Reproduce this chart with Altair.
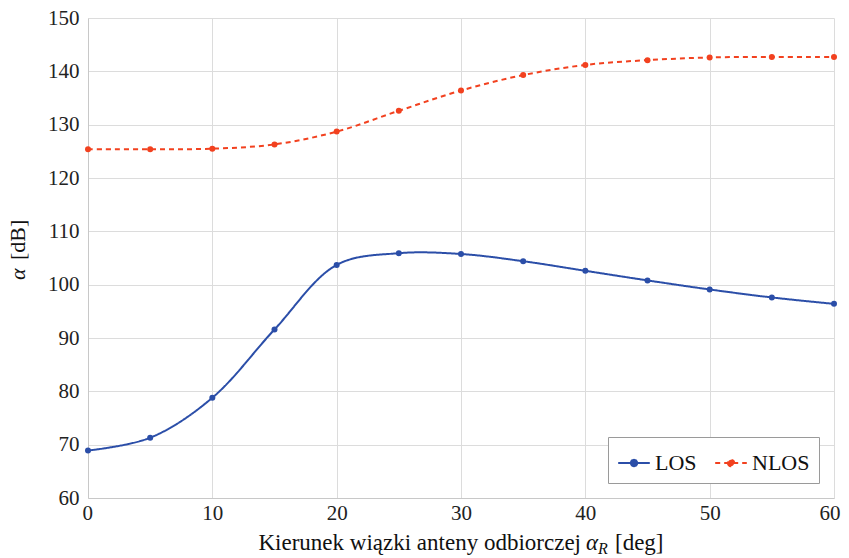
import altair as alt
import pandas as pd

angles = [0, 5, 10, 15, 20, 25, 30, 35, 40, 45, 50, 55, 60]
los = [68.9, 71.3, 78.8, 91.6, 103.7, 105.9, 105.75, 104.4, 102.6, 100.8, 99.1, 97.6, 96.4]
nlos = [125.4, 125.4, 125.5, 126.3, 128.7, 132.6, 136.4, 139.3, 141.2, 142.1, 142.6, 142.7, 142.7]
series_names = ["LOS", "NLOS"]
series_colors = ["#2b4ea8", "#f2411f"]
x_ticks = [0, 10, 20, 30, 40, 50, 60]
y_ticks = [60, 70, 80, 90, 100, 110, 120, 130, 140, 150]

rows = []
for a, v in zip(angles, los):
    rows.append({"x": a, "y": v, "s": "LOS"})
for a, v in zip(angles, nlos):
    rows.append({"x": a, "y": v, "s": "NLOS"})
df = pd.DataFrame(rows)

FONT = "Liberation Serif"
W, H = 746, 480

xs = alt.X("x:Q", scale=alt.Scale(domain=[0, 60], nice=False),
           axis=alt.Axis(values=x_ticks, title=None, grid=True, ticks=False,
                         labelFlush=True, labelFlushOffset=6, labelPadding=4,
                         domainColor="#c8c8c8"))
ys = alt.Y("y:Q", scale=alt.Scale(domain=[60, 150], nice=False),
           axis=alt.Axis(values=y_ticks, title=None, grid=True, ticks=False,
                         labelFlush=False, labelPadding=9, domainColor="#c8c8c8"))
legend_symbol = "M-1,0L1,0M-0.2,0a0.2,0.2 0 1,0 0.4,0a0.2,0.2 0 1,0 -0.4,0Z"
color = alt.Color("s:N", scale=alt.Scale(domain=series_names, range=series_colors),
                  legend=alt.Legend(title=None, orient="none", legendX=520, legendY=419,
                                    direction="horizontal", symbolType=legend_symbol,
                                    symbolSize=1000, symbolStrokeWidth=2,
                                    labelFont=FONT, labelFontSize=22, labelColor="#111",
                                    strokeColor="#9a9a9a", padding=9, columnPadding=14,
                                    labelOffset=4, fillColor="white"))
dash = alt.StrokeDash("s:N", scale=alt.Scale(domain=series_names, range=[[1, 0], [5, 4]]),
                      legend=None)

base = alt.Chart(df)
lines = base.mark_line(interpolate="catmull-rom", strokeWidth=2).encode(
    x=xs, y=ys, color=color, strokeDash=dash)
points = base.mark_point(filled=True, size=36, opacity=1).encode(
    x="x:Q", y="y:Q", color=alt.Color("s:N", legend=None,
                                      scale=alt.Scale(domain=series_names, range=series_colors)))

TS = 23
t_main = alt.Chart(pd.DataFrame({"t": ["Kierunek wiązki anteny odbiorczej"]})).mark_text(
    font=FONT, fontSize=TS, align="right", baseline="alphabetic", color="#111"
).encode(text="t:N", x=alt.value(493), y=alt.value(532))
t_alpha = alt.Chart(pd.DataFrame({"t": ["α"]})).mark_text(
    font=FONT, fontSize=TS, fontStyle="italic", align="left", baseline="alphabetic", color="#111"
).encode(text="t:N", x=alt.value(498), y=alt.value(532))
t_r = alt.Chart(pd.DataFrame({"t": ["R"]})).mark_text(
    font=FONT, fontSize=16, fontStyle="italic", align="left", baseline="alphabetic", color="#111"
).encode(text="t:N", x=alt.value(510), y=alt.value(536))
t_deg = alt.Chart(pd.DataFrame({"t": ["[deg]"]})).mark_text(
    font=FONT, fontSize=TS, align="left", baseline="alphabetic", color="#111"
).encode(text="t:N", x=alt.value(527), y=alt.value(532))

y_alpha = alt.Chart(pd.DataFrame({"t": ["α"]})).mark_text(
    font=FONT, fontSize=22, fontStyle="italic", align="left", baseline="alphabetic",
    angle=270, color="#111"
).encode(text="t:N", x=alt.value(-63), y=alt.value(262))
y_db = alt.Chart(pd.DataFrame({"t": ["[dB]"]})).mark_text(
    font=FONT, fontSize=22, align="left", baseline="alphabetic",
    angle=270, color="#111"
).encode(text="t:N", x=alt.value(-63), y=alt.value(242))

chart = alt.layer(lines, points, t_main, t_alpha, t_r, t_deg, y_alpha, y_db).properties(
    width=W, height=H, padding={"left": 80, "top": 10, "right": 7, "bottom": 60},
    autosize=alt.AutoSizeParams(type="none")
).configure_axis(
    labelFont=FONT, labelFontSize=21, labelColor="#222", gridColor="#dcdcdc"
).configure_view(stroke=None)

chart.save("out.html", embed_options={"renderer": "svg", "actions": False})
